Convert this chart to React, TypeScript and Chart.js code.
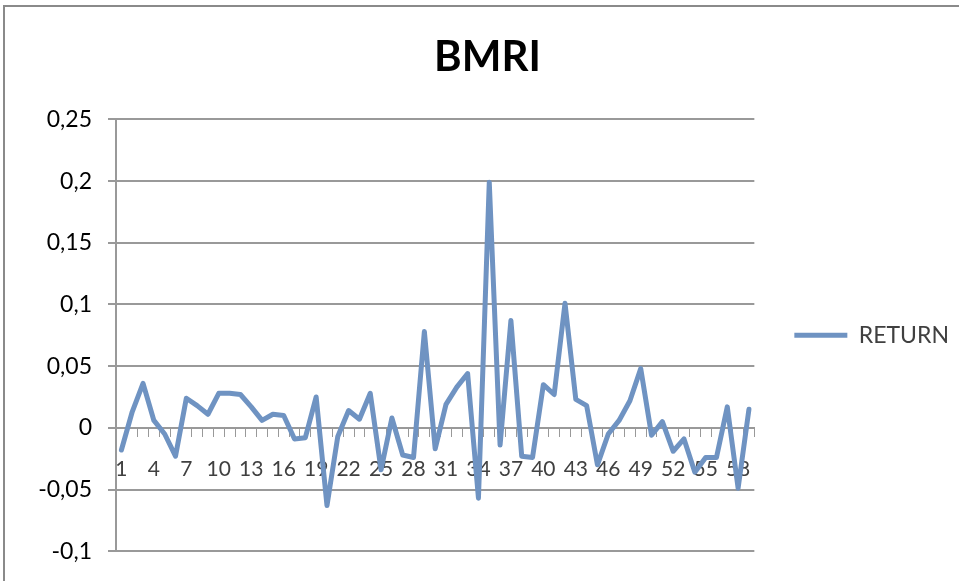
import React, { useEffect, useRef } from "react";
import { Chart, registerables } from "chart.js";

Chart.register(...registerables);

const chartTitle = "BMRI";
const seriesName = "RETURN";
const categories: string[] = Array.from({ length: 59 }, (_, i) => String(i + 1));
const returns: number[] = [
  -0.018, 0.013, 0.036, 0.006, -0.005, -0.023, 0.024, 0.018, 0.011, 0.028,
  0.028, 0.027, 0.017, 0.006, 0.011, 0.010, -0.009, -0.008, 0.025, -0.063,
  -0.007, 0.014, 0.007, 0.028, -0.034, 0.008, -0.022, -0.024, 0.078, -0.017,
  0.019, 0.033, 0.044, -0.057, 0.199, -0.014, 0.087, -0.023, -0.024, 0.035,
  0.027, 0.101, 0.023, 0.018, -0.030, -0.005, 0.006, 0.022, 0.048, -0.006,
  0.005, -0.019, -0.009, -0.036, -0.024, -0.024, 0.017, -0.049, 0.015,
];
const yTickLabels: string[] = ["-0,1", "-0,05", "0", "0,05", "0,1", "0,15", "0,2", "0,25"];

export default function App() {
  const ref = useRef<HTMLCanvasElement | null>(null);

  useEffect(() => {
    if (!ref.current) return;
    const chart = new Chart(ref.current, {
      type: "line",
      data: {
        labels: categories,
        datasets: [
          {
            label: seriesName,
            data: returns,
            borderColor: "#6f93c2",
            backgroundColor: "#6f93c2",
            borderWidth: 5,
            pointRadius: 0,
            tension: 0,
            borderJoinStyle: "round",
            borderCapStyle: "round",
          },
        ],
      },
      options: {
        responsive: false,
        animation: false,
        layout: { padding: { left: 16, right: 0, top: 0, bottom: 28 } },
        plugins: {
          title: {
            display: true,
            text: chartTitle,
            color: "#000",
            font: { family: "Lato", size: 42, weight: "bold" },
            padding: { top: 32, bottom: 37 },
          },
          legend: {
            position: "right",
            fullSize: false,
            labels: {
              usePointStyle: true,
              pointStyle: "line",
              pointStyleWidth: 53,
              boxWidth: 53,
              padding: 40,
              color: "#404040",
              font: { family: "Lato", size: 23 },
            },
          },
          tooltip: { enabled: false },
        },
        scales: {
          x: {
            type: "category",
            position: { y: 0 } as any,
            offset: true,
            grid: {
              offset: true,
              drawOnChartArea: false,
              drawTicks: true,
              tickLength: 8,
              color: "#999",
              lineWidth: 1,
            },
            border: { display: true, color: "#999", width: 2 },
            ticks: {
              autoSkip: false,
              maxRotation: 0,
              minRotation: 0,
              padding: 21,
              color: "#404040",
              font: { family: "Lato", size: 21 },
              callback: (_v: any, i: number) => (i % 3 === 0 ? categories[i] : ""),
            },
          },
          y: {
            min: -0.1,
            max: 0.25,
            afterFit: (scale: any) => {
              scale.width = 100;
            },
            grid: { color: "#999", lineWidth: 2, tickLength: 8 },
            border: { display: true, color: "#999", width: 2 },
            ticks: {
              stepSize: 0.05,
              padding: 16,
              color: "#000",
              font: { family: "Lato", size: 23 },
              callback: (_v: any, i: number) => yTickLabels[i],
            },
          },
        },
      },
    });
    return () => chart.destroy();
  }, []);

  return (
    <div
      style={{
        position: "fixed",
        left: 0,
        top: 0,
        width: 959,
        height: 581,
        overflow: "hidden",
        background: "#fff",
      }}
    >
      <canvas ref={ref} width={959} height={581} style={{ position: "absolute", left: 0, top: 0 }} />
      <div
        style={{
          position: "absolute",
          left: 3,
          top: 5,
          width: 1000,
          height: 1000,
          border: "2px solid #8a8a8a",
          pointerEvents: "none",
        }}
      />
    </div>
  );
}
